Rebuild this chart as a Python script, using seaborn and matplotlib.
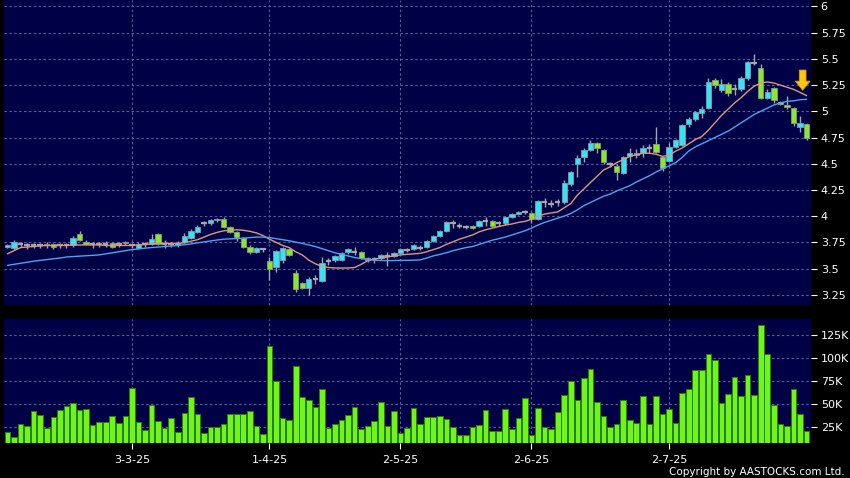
import numpy as np
import pandas as pd
import matplotlib
matplotlib.use("Agg")
import matplotlib.pyplot as plt
from matplotlib.ticker import FuncFormatter
import seaborn as sns

# daily candles
opens = [3.71, 3.70, 3.73, 3.72, 3.72, 3.72, 3.73, 3.73, 3.72, 3.72,
         3.72, 3.83, 3.75, 3.73, 3.73, 3.73, 3.74, 3.73, 3.75, 3.72,
         3.70, 3.73, 3.73, 3.83, 3.73, 3.73, 3.72, 3.75, 3.79, 3.85,
         3.93, 3.93, 3.96, 3.97, 3.90, 3.85, 3.79, 3.71, 3.66, 3.69,
         3.57, 3.51, 3.58, 3.69, 3.46, 3.36, 3.31, 3.40, 3.38, 3.57,
         3.58, 3.58, 3.66, 3.66, 3.66, 3.60, 3.59, 3.60, 3.62, 3.62,
         3.65, 3.68, 3.69, 3.70, 3.71, 3.76, 3.81, 3.86, 3.93, 3.91,
         3.90, 3.91, 3.91, 3.95, 3.95, 3.93, 3.93, 3.99, 4.02, 4.04,
         4.03, 3.97, 4.13, 4.12, 4.13, 4.13, 4.31, 4.50, 4.56, 4.63,
         4.70, 4.63, 4.50, 4.48, 4.41, 4.57, 4.58, 4.60, 4.65, 4.69,
         4.56, 4.53, 4.66, 4.68, 4.88, 4.93, 4.98, 5.03, 5.30, 5.20,
         5.26, 5.21, 5.21, 5.32, 5.46, 5.41, 5.13, 5.22, 5.09, 5.06,
         5.03, 4.85, 4.88]
highs = [3.73, 3.77, 3.75, 3.74, 3.74, 3.74, 3.75, 3.74, 3.74, 3.74,
         3.81, 3.86, 3.77, 3.75, 3.75, 3.76, 3.75, 3.75, 3.76, 3.74,
         3.75, 3.75, 3.83, 3.84, 3.77, 3.75, 3.76, 3.84, 3.88, 3.92,
         3.95, 3.97, 3.98, 3.99, 3.91, 3.86, 3.80, 3.72, 3.71, 3.70,
         3.61, 3.68, 3.71, 3.70, 3.49, 3.37, 3.42, 3.44, 3.61, 3.60,
         3.63, 3.66, 3.70, 3.71, 3.67, 3.61, 3.61, 3.64, 3.66, 3.66,
         3.70, 3.70, 3.73, 3.72, 3.77, 3.82, 3.87, 3.95, 3.96, 3.93,
         3.92, 3.92, 3.96, 3.99, 3.96, 3.95, 4.00, 4.03, 4.05, 4.06,
         4.04, 4.15, 4.17, 4.15, 4.16, 4.34, 4.43, 4.58, 4.65, 4.73,
         4.71, 4.64, 4.52, 4.50, 4.57, 4.65, 4.64, 4.68, 4.69, 4.85,
         4.57, 4.70, 4.74, 4.88, 4.95, 5.00, 5.05, 5.32, 5.32, 5.31,
         5.28, 5.26, 5.34, 5.48, 5.55, 5.45, 5.21, 5.23, 5.10, 5.15,
         5.04, 4.96, 4.89]
lows = [3.70, 3.68, 3.71, 3.69, 3.70, 3.70, 3.70, 3.69, 3.70, 3.70,
        3.71, 3.76, 3.72, 3.70, 3.71, 3.71, 3.70, 3.71, 3.72, 3.70,
        3.69, 3.71, 3.72, 3.72, 3.70, 3.71, 3.71, 3.74, 3.78, 3.84,
        3.91, 3.92, 3.94, 3.89, 3.84, 3.76, 3.70, 3.64, 3.65, 3.66,
        3.39, 3.47, 3.55, 3.62, 3.28, 3.30, 3.25, 3.35, 3.37, 3.53,
        3.56, 3.57, 3.64, 3.63, 3.59, 3.56, 3.55, 3.58, 3.52, 3.61,
        3.64, 3.66, 3.68, 3.68, 3.70, 3.75, 3.80, 3.85, 3.89, 3.89,
        3.88, 3.88, 3.90, 3.91, 3.90, 3.91, 3.92, 3.98, 4.01, 4.02,
        3.93, 3.96, 4.09, 4.09, 4.10, 4.12, 4.29, 4.37, 4.52, 4.62,
        4.60, 4.50, 4.47, 4.34, 4.40, 4.52, 4.55, 4.56, 4.60, 4.60,
        4.43, 4.52, 4.65, 4.67, 4.85, 4.91, 4.94, 5.02, 5.22, 5.18,
        5.15, 5.16, 5.19, 5.30, 5.44, 5.12, 5.12, 5.08, 5.06, 5.02,
        4.86, 4.80, 4.73]
closes = [3.72, 3.75, 3.73, 3.72, 3.72, 3.72, 3.72, 3.71, 3.72, 3.72,
          3.79, 3.77, 3.73, 3.73, 3.73, 3.73, 3.71, 3.73, 3.74, 3.72,
          3.73, 3.73, 3.78, 3.73, 3.73, 3.73, 3.74, 3.81, 3.86, 3.90,
          3.93, 3.96, 3.97, 3.90, 3.85, 3.80, 3.71, 3.66, 3.70, 3.69,
          3.50, 3.67, 3.70, 3.63, 3.30, 3.31, 3.40, 3.40, 3.55, 3.57,
          3.62, 3.65, 3.69, 3.66, 3.60, 3.58, 3.59, 3.63, 3.62, 3.65,
          3.69, 3.68, 3.72, 3.70, 3.76, 3.81, 3.86, 3.94, 3.93, 3.91,
          3.90, 3.89, 3.95, 3.95, 3.91, 3.93, 3.99, 4.02, 4.04, 4.04,
          3.97, 4.14, 4.13, 4.12, 4.13, 4.32, 4.42, 4.55, 4.63, 4.70,
          4.65, 4.52, 4.50, 4.42, 4.56, 4.60, 4.60, 4.65, 4.65, 4.61,
          4.46, 4.66, 4.73, 4.87, 4.93, 4.99, 5.02, 5.28, 5.25, 5.26,
          5.17, 5.21, 5.32, 5.47, 5.46, 5.13, 5.18, 5.11, 5.07, 5.04,
          4.89, 4.89, 4.75]

# volume in thousands of shares
volumes_k = [19.9, 13.8, 28.3, 26.1, 42.0, 38.4, 23.6, 35.9, 43.5, 47.5,
             51.0, 43.8, 45.0, 27.5, 30.8, 30.4, 37.0, 29.7, 36.6, 67.0,
             30.4, 22.0, 49.3, 31.9, 23.6, 34.8, 19.9, 40.6, 57.6, 39.1,
             18.8, 25.4, 25.0, 28.6, 39.1, 38.8, 39.1, 42.8, 26.1, 17.8,
             113.4, 74.6, 34.8, 33.0, 90.9, 57.6, 54.0, 47.1, 66.0, 23.6,
             28.6, 32.6, 38.0, 46.4, 22.8, 26.4, 31.5, 52.5, 26.1, 42.8,
             18.8, 23.6, 46.0, 28.3, 35.9, 36.2, 36.6, 33.3, 25.0, 16.0,
             16.0, 24.6, 27.5, 43.8, 20.6, 20.6, 44.6, 22.8, 35.1, 56.9,
             16.7, 45.7, 25.0, 22.5, 41.7, 60.1, 75.4, 54.7, 78.6, 88.4,
             51.8, 37.0, 25.0, 27.9, 54.3, 33.0, 29.7, 58.7, 28.6, 58.7,
             39.1, 44.6, 29.3, 62.3, 66.3, 86.6, 86.6, 104.3, 97.5, 51.0,
             60.9, 79.0, 58.3, 81.5, 60.1, 136.2, 104.0, 49.3, 28.3, 26.4,
             66.7, 39.1, 20.3]

# the two moving average lines as drawn
ma_short = [3.64, 3.67, 3.70, 3.705, 3.71, 3.715, 3.72, 3.72, 3.72, 3.72,
            3.725, 3.725, 3.725, 3.725, 3.725, 3.72, 3.72, 3.72, 3.72, 3.72,
            3.725, 3.73, 3.735, 3.74, 3.74, 3.74, 3.74, 3.745, 3.76, 3.775,
            3.80, 3.825, 3.845, 3.86, 3.865, 3.87, 3.865, 3.855, 3.84, 3.815,
            3.78, 3.75, 3.72, 3.70, 3.66, 3.63, 3.58, 3.545, 3.52, 3.51,
            3.505, 3.505, 3.505, 3.51, 3.54, 3.575, 3.59, 3.60, 3.61, 3.62,
            3.63, 3.635, 3.64, 3.645, 3.66, 3.68, 3.70, 3.73, 3.755, 3.78,
            3.80, 3.82, 3.85, 3.87, 3.885, 3.90, 3.915, 3.925, 3.94, 3.95,
            3.97, 4.00, 4.02, 4.03, 4.04, 4.08, 4.12, 4.20, 4.26, 4.32,
            4.38, 4.44, 4.47, 4.51, 4.54, 4.57, 4.585, 4.60, 4.60, 4.59,
            4.57, 4.58, 4.62, 4.65, 4.69, 4.73, 4.76, 4.82, 4.89, 4.96,
            5.02, 5.08, 5.13, 5.19, 5.24, 5.27, 5.28, 5.27, 5.25, 5.23,
            5.21, 5.18, 5.15]
ma_long = [3.53, 3.54, 3.55, 3.56, 3.57, 3.578, 3.585, 3.593, 3.60, 3.61,
           3.614, 3.618, 3.622, 3.626, 3.63, 3.64, 3.65, 3.66, 3.67, 3.68,
           3.687, 3.694, 3.70, 3.705, 3.71, 3.715, 3.72, 3.727, 3.735, 3.745,
           3.754, 3.763, 3.772, 3.78, 3.783, 3.786, 3.79, 3.795, 3.80, 3.80,
           3.795, 3.785, 3.775, 3.765, 3.752, 3.74, 3.725, 3.71, 3.69, 3.67,
           3.65, 3.635, 3.62, 3.605, 3.595, 3.585, 3.58, 3.577, 3.575, 3.576,
           3.578, 3.578, 3.58, 3.582, 3.60, 3.62, 3.635, 3.65, 3.67, 3.685,
           3.70, 3.71, 3.73, 3.75, 3.77, 3.785, 3.80, 3.82, 3.84, 3.86,
           3.885, 3.915, 3.94, 3.96, 3.98, 4.00, 4.025, 4.06, 4.10, 4.13,
           4.16, 4.19, 4.21, 4.24, 4.265, 4.29, 4.325, 4.355, 4.385, 4.42,
           4.45, 4.48, 4.51, 4.56, 4.62, 4.66, 4.69, 4.72, 4.75, 4.78,
           4.81, 4.85, 4.89, 4.93, 4.97, 5.00, 5.03, 5.06, 5.08, 5.095,
           5.10, 5.11, 5.115]

date_ticks = [19, 40, 60, 80, 101]
date_labels = ["3-3-25", "1-4-25", "2-5-25", "2-6-25", "2-7-25"]
price_ticks = [3.25, 3.5, 3.75, 4.0, 4.25, 4.5, 4.75, 5.0, 5.25, 5.5, 5.75, 6.0]
volume_ticks_k = [25, 50, 75, 100, 125]

NAVY = "#000046"
GRID = "#5c5c96"
UP = "#33e4f4"
DOWN = "#88e82c"
FLAT = "#a6a6a6"
WICK = "#a4a4ac"
VOL = "#6ef51c"
VOL_EDGE = "#2e7d05"


def main():
    sns.set_style("dark")
    plt.rcParams["font.family"] = ["DejaVu Sans"]

    df = pd.DataFrame({"open": opens, "high": highs, "low": lows, "close": closes,
                       "volume": np.array(volumes_k) * 1000,
                       "ma_short": ma_short, "ma_long": ma_long})
    df["idx"] = np.arange(len(df))
    n = len(df)

    fig = plt.figure(figsize=(8.5, 4.78), dpi=100, facecolor="black")
    ax_p = fig.add_axes([4 / 850, 1 - 305 / 478, 807 / 850, 305 / 478])
    ax_v = fig.add_axes([4 / 850, 1 - 443 / 478, 807 / 850, 124 / 478])

    # candles
    up = df[df.close > df.open]
    down = df[df.close < df.open]
    flat = df[df.close == df.open]
    ax_p.vlines(df.idx, df.low, df.high, color=WICK, linewidth=1, zorder=2)
    ax_p.bar(up.idx, up.close - up.open, bottom=up.open, width=0.82,
             color=UP, edgecolor="#8a9aa6", linewidth=0.6, zorder=3)
    ax_p.bar(down.idx, down.open - down.close, bottom=down.close, width=0.82,
             color=DOWN, edgecolor="#8a9a80", linewidth=0.6, zorder=3)
    ax_p.hlines(flat.close, flat.idx - 0.42, flat.idx + 0.42, color=FLAT,
                linewidth=1.6, zorder=3)

    sns.lineplot(data=df, x="idx", y="ma_short", ax=ax_p, color="#e0967a",
                 linewidth=1.0, zorder=4)
    sns.lineplot(data=df, x="idx", y="ma_long", ax=ax_p, color="#48a6ee",
                 linewidth=1.0, zorder=4)

    # arrow marking the last session
    ax_p.annotate("", xy=(n - 1.6, 5.175), xytext=(n - 1.6, 5.42),
                  arrowprops=dict(arrowstyle="simple,head_length=0.65,head_width=1.05,tail_width=0.48",
                                  fc="#ffc614", ec="#e09a00", lw=0.6, mutation_scale=10),
                  zorder=6)

    # volume
    sns.barplot(data=df, x="idx", y="volume", ax=ax_v, color=VOL, saturation=1,
                width=0.86, edgecolor=VOL_EDGE, linewidth=0.7, zorder=3)

    for ax in (ax_p, ax_v):
        ax.set_facecolor(NAVY)
        ax.set_xlim(-0.53, n - 0.33)
        for s in ax.spines.values():
            s.set_visible(False)
        ax.grid(True, color=GRID, linestyle=(0, (2.2, 2.2)), linewidth=0.8)
        ax.set_axisbelow(True)
        ax.yaxis.tick_right()
        ax.set_xlabel("")
        ax.set_ylabel("")
        ax.set_xticks(date_ticks)
        ax.tick_params(axis="y", colors="white", labelsize=8, length=4, width=0.8,
                       pad=3, left=False, right=True)

    ax_p.set_ylim(3.152, 6.062)
    ax_p.set_yticks(price_ticks)
    ax_p.yaxis.set_major_formatter(FuncFormatter(lambda v, p: f"{v:g}"))
    ax_p.tick_params(axis="x", length=0, labelbottom=False)

    ax_v.set_ylim(7600, 142400)
    ax_v.set_yticks([v * 1000 for v in volume_ticks_k])
    ax_v.yaxis.set_major_formatter(FuncFormatter(lambda v, p: f"{int(round(v / 1000))}K"))
    ax_v.set_xticklabels(date_labels)
    ax_v.tick_params(axis="x", colors="white", labelsize=8, length=4, width=0.8,
                     pad=4.5, bottom=True)

    fig.text(0.994, 0.003, "Copyright by AASTOCKS.com Ltd.", ha="right", va="bottom",
             color="white", fontsize=7.5)

    fig.savefig("out.png", dpi=100, facecolor="black")
    plt.close(fig)


if __name__ == "__main__":
    main()
